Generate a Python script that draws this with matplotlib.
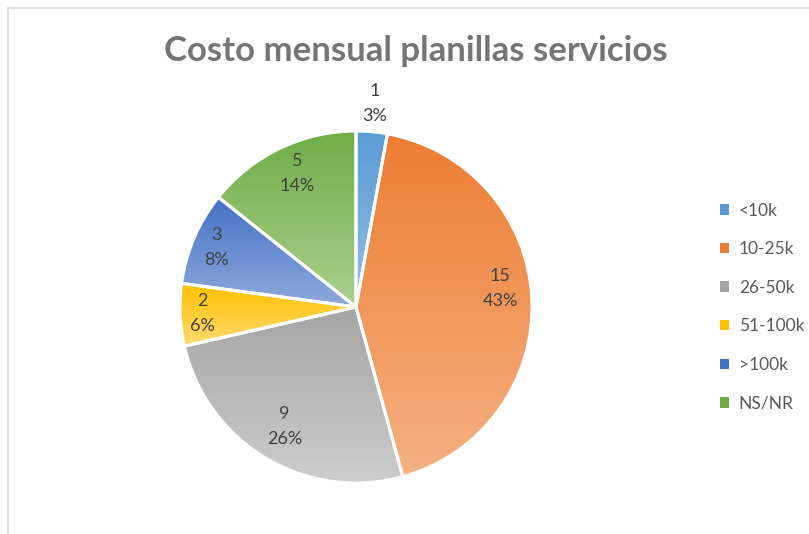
import numpy as np
import matplotlib.pyplot as plt
from matplotlib.colors import to_rgb
from matplotlib.lines import Line2D
from matplotlib.patches import Patch

# data
categories = ['<10k', '10-25k', '26-50k', '51-100k', '>100k', 'NS/NR']
counts = [1, 15, 9, 2, 3, 5]
pct_labels = ['3%', '43%', '26%', '6%', '8%', '14%']

# gradient colours (top, bottom) in the Excel office palette
top_colors = ['#5B9BD5', '#ED7D31', '#A5A5A5', '#FFC000', '#4472C4', '#70AD47']
bottom_colors = ['#95BDE6', '#F4B183', '#CDCDCD', '#FFDA6E', '#8FAADC', '#A9D18E']
# data label placement: radius fraction and angular nudge (deg) per wedge
label_r = [1.16, 0.825, 0.79, 0.875, 0.86, 0.83]
label_dang = [0, 4.9, 0, 0, 0, -2]

plt.rcParams['font.family'] = ['Lato', 'DejaVu Sans']

fig = plt.figure(figsize=(8.09, 5.34), dpi=100)

# chart-area border (cropped at right and bottom)
fig.add_artist(Line2D([8 / 809, 8 / 809], [0, 1 - 8 / 534], transform=fig.transFigure,
                      color='#D9D9D9', lw=1.2))
fig.add_artist(Line2D([8 / 809, 1], [1 - 8 / 534, 1 - 8 / 534], transform=fig.transFigure,
                      color='#D9D9D9', lw=1.2))

fig.text(416 / 809, 1 - 51 / 534, 'Costo mensual planillas servicios', ha='center', va='center',
         fontsize=25, fontweight='bold', color='#757575')

ax = fig.add_axes([136 / 809, 7 / 534, 440 / 809, 440 / 534])
wedges, _ = ax.pie(counts, startangle=90, counterclock=False, radius=1,
                   wedgeprops=dict(edgecolor='white', linewidth=2.2, facecolor='none'))

for w, c_top, c_bot in zip(wedges, top_colors, bottom_colors):
    verts = w.get_patch_transform().transform(w.get_path().vertices)
    x0, y0 = verts.min(axis=0)
    x1, y1 = verts.max(axis=0)
    t = np.linspace(0, 1, 256)[:, None]
    grad = (1 - t) * np.array(to_rgb(c_top)) + t * np.array(to_rgb(c_bot))
    im = ax.imshow(grad[:, None, :], extent=[x0, x1, y0, y1], origin='upper',
                   aspect='auto', interpolation='bilinear', zorder=1)
    im.set_clip_path(w)
    w.set_zorder(2)

total = sum(counts)
cum = 0
for n, p, r, da in zip(counts, pct_labels, label_r, label_dang):
    mid = np.deg2rad(90 - (cum + n / 2) / total * 360 + da)
    cum += n
    ax.text(r * np.cos(mid), r * np.sin(mid), f'{n}\n{p}', ha='center', va='center',
            fontsize=13, color='#404040', linespacing=1.7, zorder=3)

ax.set_xlim(-1.25, 1.25)
ax.set_ylim(-1.25, 1.25)
ax.set_aspect('equal')
ax.axis('off')

handles = [Patch(facecolor=c) for c in top_colors]
fig.legend(handles, categories, loc='upper left', bbox_to_anchor=(704 / 809, 1 - 187 / 534),
           frameon=False, fontsize=12.5, labelcolor='#595959', handlelength=0.55,
           handleheight=0.55, handletextpad=0.55, labelspacing=1.3)

fig.savefig('out.png', dpi=100, facecolor='white')
